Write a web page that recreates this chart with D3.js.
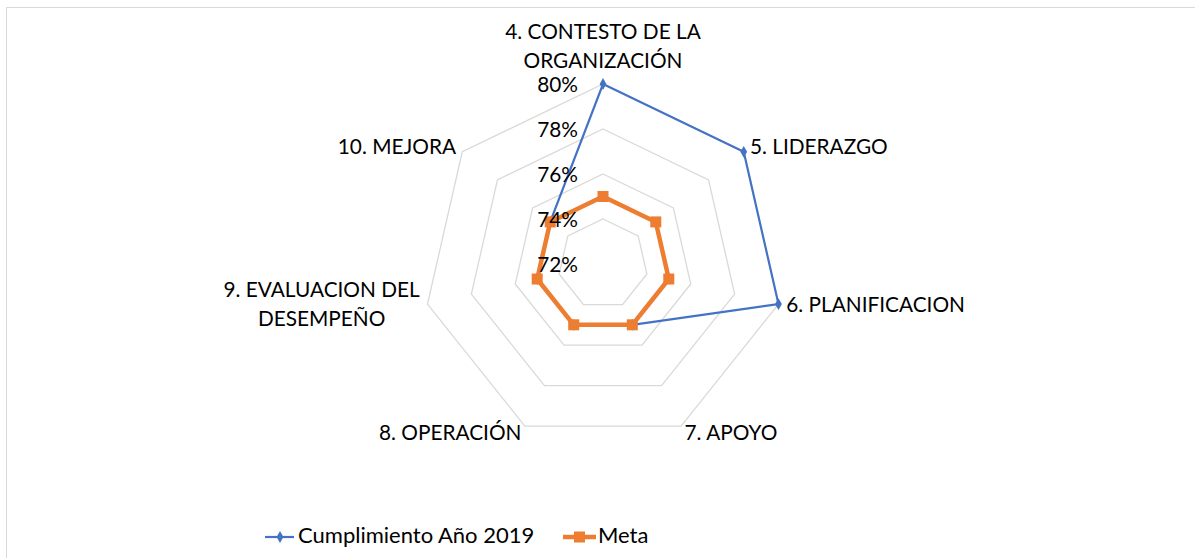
<!DOCTYPE html>
<html><head><meta charset="utf-8">
<script src="https://cdn.jsdelivr.net/npm/d3@7"></script>
<style>body{margin:0;background:#fff}svg{display:block}</style>
</head><body>
<script>
const categories = ["4. CONTESTO DE LA\nORGANIZACIÓN","5. LIDERAZGO","6. PLANIFICACION","7. APOYO","8. OPERACIÓN","9. EVALUACION DEL\nDESEMPEÑO","10. MEJORA"];
const cumplimiento = [0.80,0.80,0.80,0.75,0.75,0.75,0.75];
const meta = [0.75,0.75,0.75,0.75,0.75,0.75,0.75];
const ticks = [0.72,0.74,0.76,0.78,0.80];
const seriesNames = ["Cumplimiento Año 2019","Meta"];

const W=1195,H=558, cx=603, cy=264, R=180;
const FONT="Lato, 'Open Sans', sans-serif";
const FS=20.8;
const svg=d3.select("body").append("svg").attr("width",W).attr("height",H);
svg.append("rect").attr("x",6.5).attr("y",7.5).attr("width",W).attr("height",H).attr("fill","#fff").attr("stroke","#D9D9D9").attr("stroke-width",1);

const r=d3.scaleLinear().domain([0.72,0.80]).range([0,R]);
const ang=d3.scaleLinear().domain([0,categories.length]).range([-Math.PI/2,3*Math.PI/2]);
const pt=(i,v)=>[cx+r(v)*Math.cos(ang(i)), cy+r(v)*Math.sin(ang(i))];

// grid
ticks.filter(t=>t>0.72).forEach(t=>{
  svg.append("path").attr("d",d3.line()(categories.map((c,i)=>pt(i,t)))+"Z")
    .attr("fill","none").attr("stroke","#D9D9D9").attr("stroke-width",1.3);
});

// category labels
categories.forEach((c,i)=>{
  const a=ang(i), co=Math.cos(a), si=Math.sin(a);
  const [vx,vy]=pt(i,0.80);
  const x=vx+co*8, y=vy+si*10+(si<0&&si>-0.99?3:0);
  const lines=c.split("\n");
  const g=svg.append("g");
  const lh=29;
  const txts=lines.map((l,k)=>g.append("text").attr("font-family",FONT).attr("font-size",FS).attr("fill","#000").text(l).attr("text-anchor","middle"));
  const bw=d3.max(txts,t=>t.node().getComputedTextLength());
  let bx;
  if(Math.abs(co)<0.05) bx=x; else if(co>0) bx=x+bw/2; else bx=x-bw/2;
  const bh=lines.length*lh;
  let top;
  if(si<-0.99) top=y-bh+3; else top=y-bh/2;
  txts.forEach((t,k)=>t.attr("x",bx).attr("y",top+lh*k+lh/2).attr("dominant-baseline","middle"));
});

// series
const line=d3.line();
const metaPts=meta.map((v,i)=>pt(i,v));
const cumPts=cumplimiento.map((v,i)=>pt(i,v));
svg.append("path").attr("d",line(cumPts)+"Z").attr("fill","none").attr("stroke","#4472C4").attr("stroke-width",2.2);
svg.selectAll(".cm").data(cumPts).join("path").attr("d",d3.symbol(d3.symbolDiamond,40)).attr("transform",d=>`translate(${d[0]},${d[1]})`).attr("fill","#4472C4");
svg.append("path").attr("d",line(metaPts)+"Z").attr("fill","none").attr("stroke","#ED7D31").attr("stroke-width",4.5).attr("stroke-linejoin","round");
svg.selectAll(".mm").data(metaPts).join("rect").attr("x",d=>d[0]-5.5).attr("y",d=>d[1]-5.5).attr("width",11).attr("height",11).attr("fill","#ED7D31");

// tick labels (on top of series)
svg.selectAll(".tick").data(ticks).join("text").attr("x",cx-25).attr("y",d=>cy-r(d)+3)
  .attr("text-anchor","end").attr("dominant-baseline","middle").attr("font-family",FONT).attr("font-size",FS).attr("fill","#000")
  .text(d=>d3.format(".0%")(d));

// legend
const ly=537;
const lg=svg.append("g");
lg.append("line").attr("x1",265).attr("x2",294).attr("y1",ly).attr("y2",ly).attr("stroke","#4472C4").attr("stroke-width",2.2);
lg.append("path").attr("d",d3.symbol(d3.symbolDiamond,40)).attr("transform",`translate(280,${ly})`).attr("fill","#4472C4");
lg.append("text").attr("x",298).attr("y",ly).attr("dominant-baseline","middle").attr("font-family",FONT).attr("font-size",22).text(seriesNames[0]);
lg.append("line").attr("x1",563).attr("x2",596).attr("y1",ly).attr("y2",ly).attr("stroke","#ED7D31").attr("stroke-width",4.5);
lg.append("rect").attr("x",574).attr("y",ly-5.5).attr("width",11).attr("height",11).attr("fill","#ED7D31");
lg.append("text").attr("x",598).attr("y",ly).attr("dominant-baseline","middle").attr("font-family",FONT).attr("font-size",22).text(seriesNames[1]);
</script>
</body></html>
